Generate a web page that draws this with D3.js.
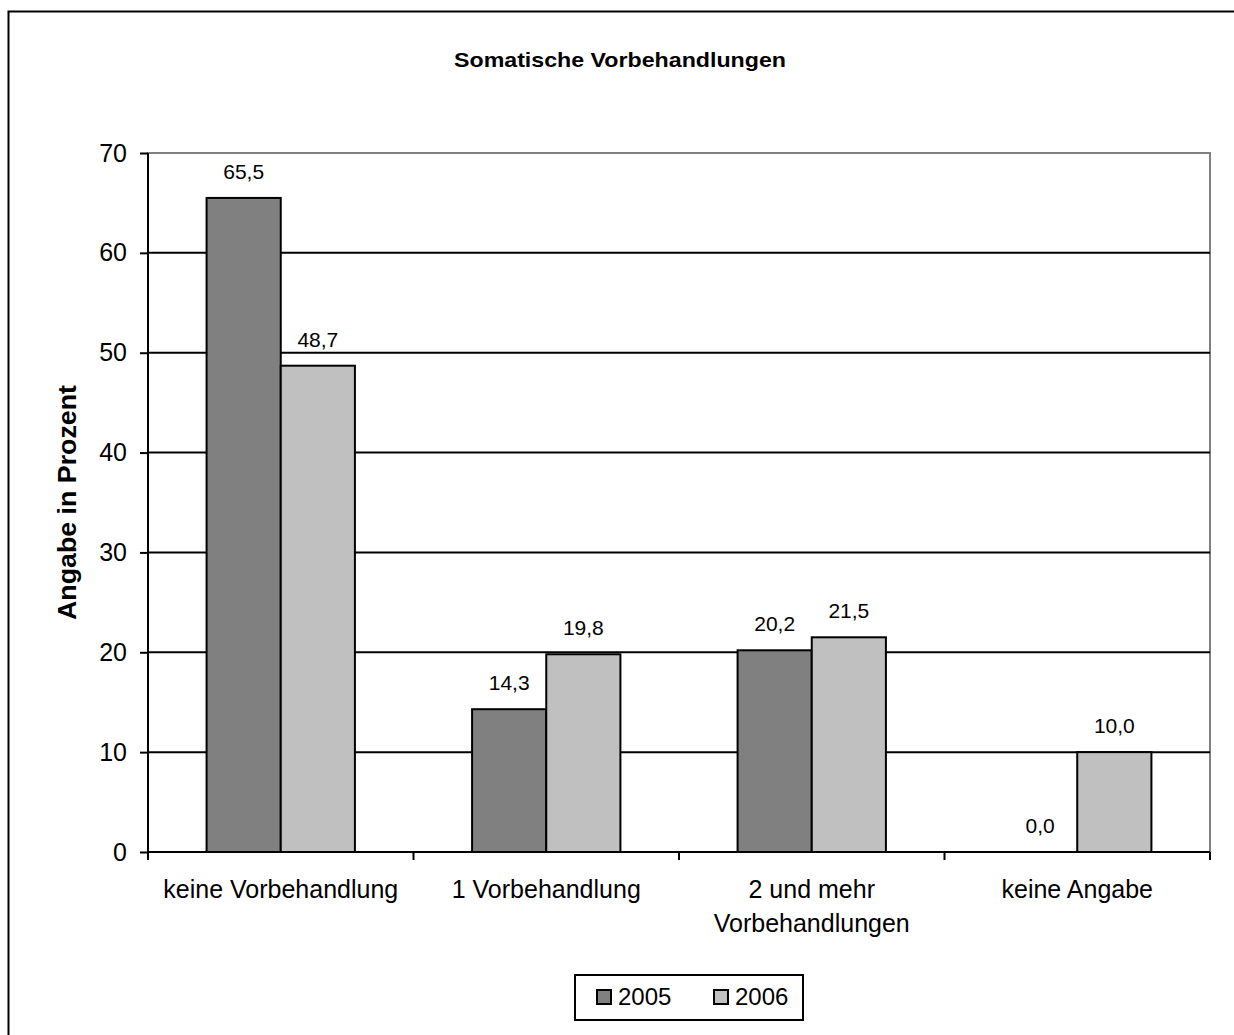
<!DOCTYPE html>
<html><head><meta charset="utf-8">
<script src="https://cdn.jsdelivr.net/npm/d3@7"></script>
<style>body{margin:0;background:#fff}svg{display:block}</style>
</head><body>
<script>
const categories = [["keine Vorbehandlung"], ["1 Vorbehandlung"], ["2 und mehr", "Vorbehandlungen"], ["keine Angabe"]];
const seriesNames = ["2005", "2006"];
const values2005 = [65.5, 14.3, 20.2, 0.0];
const values2006 = [48.7, 19.8, 21.5, 10.0];
const yTicks = [0, 10, 20, 30, 40, 50, 60, 70];
const colors = ["#808080", "#c0c0c0"];

const W = 1234, H = 1035;
const svg = d3.select("body").append("svg").attr("width", W).attr("height", H);
const font = "Liberation Sans, Arial, sans-serif";

// outer chart border (extends past image on right/bottom)
svg.append("rect").attr("x", 8.5).attr("y", 11.5).attr("width", 1300).attr("height", 1100)
  .attr("fill", "none").attr("stroke", "#000").attr("stroke-width", 2);

const L = 148, R = 1210, T = 153, B = 852;
const x = d3.scaleBand().domain(d3.range(categories.length)).range([L, R]).paddingInner(0).paddingOuter(0);
const xs = d3.scaleBand().domain(seriesNames).range([0, x.bandwidth()]).paddingInner(0).paddingOuter(0.79);
const y = d3.scaleLinear().domain([0, 70]).range([B, T]);

// plot border (gray)
svg.append("rect").attr("x", L).attr("y", T).attr("width", R - L).attr("height", B - T)
  .attr("fill", "none").attr("stroke", "#808080").attr("stroke-width", 2);

// gridlines
svg.append("g").selectAll("line").data(yTicks.filter(d => d > 0 && d < 70)).join("line")
  .attr("x1", L).attr("x2", R).attr("y1", d => y(d)).attr("y2", d => y(d))
  .attr("stroke", "#000").attr("stroke-width", 2);

// bars
const series = [values2005, values2006];
const g = svg.append("g");
series.forEach((vals, si) => {
  g.selectAll(null).data(vals).join("rect")
    .attr("x", (d, i) => x(i) + xs(seriesNames[si]))
    .attr("y", d => y(d))
    .attr("width", xs.bandwidth())
    .attr("height", d => B - y(d))
    .attr("fill", colors[si])
    .attr("stroke", "#000").attr("stroke-width", d => d > 0 ? 2 : 0);
  g.selectAll(null).data(vals).join("text")
    .attr("x", (d, i) => x(i) + xs(seriesNames[si]) + xs.bandwidth() / 2)
    .attr("y", d => y(d) - 19)
    .attr("text-anchor", "middle").attr("font-family", font).attr("font-size", 21)
    .text(d => d.toFixed(1).replace(".", ","));
});

// y axis
const yAxis = d3.axisLeft(y).tickValues(yTicks).tickSize(8).tickPadding(13).tickFormat(d3.format("d"));
const ya = svg.append("g").attr("transform", `translate(${L},0)`).call(yAxis);
ya.select(".domain").attr("stroke", "#000").attr("stroke-width", 2).attr("d", `M0,${T}V${B}`);
ya.selectAll(".tick line").attr("stroke", "#000").attr("stroke-width", 2);
ya.selectAll(".tick text").attr("font-family", font).attr("font-size", 25).attr("fill", "#000");

// x axis
const xa = svg.append("g").attr("transform", `translate(0,${B})`);
xa.append("line").attr("x1", L).attr("x2", R).attr("stroke", "#000").attr("stroke-width", 2);
xa.selectAll(".xt").data(d3.range(categories.length + 1)).join("line")
  .attr("x1", i => i < categories.length ? x(i) : R).attr("x2", i => i < categories.length ? x(i) : R)
  .attr("y1", 0).attr("y2", 8).attr("stroke", "#000").attr("stroke-width", 2);
xa.selectAll(".xl").data(categories).join("text")
  .attr("text-anchor", "middle").attr("font-family", font).attr("font-size", 25)
  .each(function (lines, i) {
    d3.select(this).selectAll("tspan").data(lines).join("tspan")
      .attr("x", x(i) + x.bandwidth() / 2).attr("y", (d, j) => 46 + j * 34).text(d => d);
  });

// title
svg.append("text").attr("x", 620).attr("y", 67).attr("text-anchor", "middle")
  .attr("font-family", font).attr("font-weight", "bold").attr("font-size", 21)
  .attr("textLength", 332).attr("lengthAdjust", "spacingAndGlyphs").text("Somatische Vorbehandlungen");

// y title
svg.append("text").attr("transform", `translate(76,${(T + B) / 2}) rotate(-90)`).attr("text-anchor", "middle")
  .attr("font-family", font).attr("font-weight", "bold").attr("font-size", 25)
  .attr("textLength", 235).attr("lengthAdjust", "spacingAndGlyphs").text("Angabe in Prozent");

// legend
const lg = svg.append("g");
lg.append("rect").attr("x", 575).attr("y", 975).attr("width", 228).attr("height", 45)
  .attr("fill", "#fff").attr("stroke", "#000").attr("stroke-width", 2);
const legX = [597, 714];
seriesNames.forEach((s, i) => {
  lg.append("rect").attr("x", legX[i]).attr("y", 990).attr("width", 14).attr("height", 14)
    .attr("fill", colors[i]).attr("stroke", "#000").attr("stroke-width", 2);
  lg.append("text").attr("x", legX[i] + 21).attr("y", 1005).attr("font-family", font).attr("font-size", 24).text(s);
});
</script>
</body></html>
